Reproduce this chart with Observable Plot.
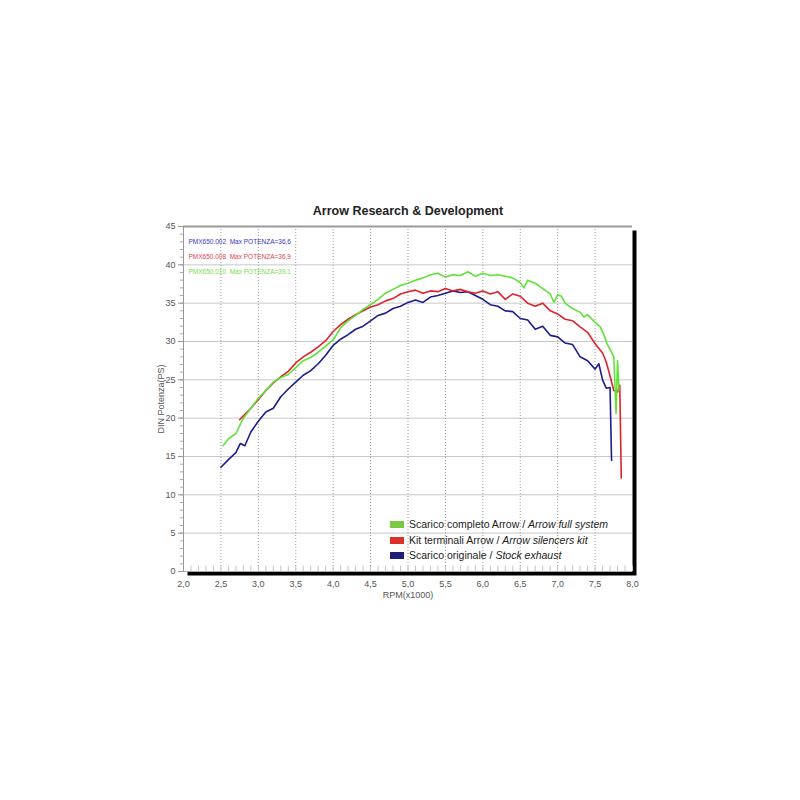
<!DOCTYPE html>
<html>
<head>
<meta charset="utf-8">
<script src="https://cdn.jsdelivr.net/npm/d3@7"></script>
<script src="https://cdn.jsdelivr.net/npm/@observablehq/plot@0.6"></script>
<style>
  body { margin: 0; background: #fff; font-family: "Liberation Sans", Arial, sans-serif; }
  #wrap { position: relative; width: 800px; height: 800px; }
  #legend { position: absolute; left: 390px; top: 517px; font-size: 10.5px; color: #222; line-height: 15.5px; }
  #legend .row { display: flex; align-items: center; white-space: nowrap; }
  #legend .sw { width: 14px; height: 7px; margin-right: 5px; display: inline-block; }
</style>
</head>
<body>
<div id="wrap"><div id="chart"></div><div id="legend"></div></div>
<script>
const title = "Arrow Research & Development";
const xLabel = "RPM(x1000)";
const yLabel = "DIN Potenza(PS)";
const xTicks = [2, 2.5, 3, 3.5, 4, 4.5, 5, 5.5, 6, 6.5, 7, 7.5, 8];
const yTicks = [0, 5, 10, 15, 20, 25, 30, 35, 40, 45];

const seriesNames = ["Stock", "Silencers", "Full"];
const seriesColors = ["#1c1c8c", "#e0222c", "#62e03a"];
const notes = ["PMX650.002  Max POTENZA=36,6", "PMX650.008  Max POTENZA=36,9", "PMX650.010  Max POTENZA=39,1"];
const noteColors = ["#3535c8", "#e0404e", "#74e04a"];
const legendLabels = [
  ["Scarico completo Arrow / ", "Arrow full system"],
  ["Kit terminali Arrow / ", "Arrow silencers kit"],
  ["Scarico originale / ", "Stock exhaust"]
];
const legendColors = ["#7ac943", "#d9302a", "#1f1f7a"];

// Stock exhaust (blue)
const stockRpm = [2.5,2.6,2.7,2.76,2.82,2.9,3.0,3.1,3.2,3.3,3.4,3.5,3.6,3.7,3.8,3.9,4.0,4.1,4.2,4.3,4.4,4.5,4.6,4.7,4.8,4.9,5.0,5.1,5.2,5.3,5.4,5.5,5.6,5.7,5.8,5.9,6.0,6.1,6.2,6.3,6.4,6.5,6.6,6.7,6.8,6.9,7.0,7.1,7.2,7.3,7.4,7.5,7.55,7.6,7.65,7.7,7.72];
const stockPs  = [13.6,14.6,15.5,16.7,16.4,18.2,19.6,20.8,21.3,22.8,23.8,24.7,25.6,26.2,27.1,28.2,29.5,30.3,30.9,31.6,32.0,32.7,33.4,33.7,34.3,34.6,35.1,35.4,35.1,35.8,36.0,36.3,36.6,36.4,36.5,36.0,35.5,34.8,34.6,34.0,33.9,33.0,32.8,31.6,32.0,30.8,30.6,29.8,29.6,28.0,27.5,26.4,27.1,25.0,23.9,24.0,14.5];

// Arrow silencers kit (red)
const silRpm = [2.75,2.8,2.9,3.0,3.1,3.2,3.3,3.4,3.5,3.6,3.7,3.8,3.9,4.0,4.1,4.2,4.3,4.4,4.5,4.6,4.7,4.8,4.9,5.0,5.1,5.2,5.3,5.4,5.5,5.6,5.7,5.8,5.9,6.0,6.1,6.2,6.3,6.4,6.5,6.6,6.7,6.8,6.9,7.0,7.1,7.2,7.3,7.4,7.5,7.6,7.65,7.7,7.75,7.8,7.83,7.85];
const silPs  = [19.8,20.3,21.3,22.4,23.6,24.6,25.4,26.1,27.2,28.0,28.6,29.3,30.1,31.3,32.2,32.9,33.5,34.0,34.5,34.8,35.3,35.6,36.2,36.5,36.7,36.3,36.6,36.5,36.9,36.6,36.8,36.5,36.3,36.6,36.2,36.5,35.5,36.2,35.9,35.0,34.6,35.0,34.0,33.6,32.9,32.7,31.9,31.2,29.7,28.5,27.3,25.5,23.6,23.4,24.3,12.2];

// Arrow full system (green)
const fullRpm = [2.53,2.6,2.7,2.8,2.9,3.0,3.1,3.2,3.3,3.4,3.5,3.6,3.7,3.8,3.9,4.0,4.1,4.2,4.3,4.4,4.5,4.6,4.7,4.8,4.9,5.0,5.1,5.2,5.3,5.4,5.5,5.6,5.7,5.8,5.9,6.0,6.1,6.2,6.3,6.4,6.5,6.55,6.6,6.7,6.8,6.9,6.95,7.0,7.05,7.1,7.2,7.3,7.35,7.4,7.5,7.57,7.62,7.66,7.7,7.75,7.78,7.8,7.82];
const fullPs  = [16.4,17.3,18.0,20.0,21.3,22.6,23.6,24.7,25.3,25.7,26.6,27.5,27.9,28.6,29.4,30.2,31.8,32.7,33.4,34.2,34.8,35.5,36.3,36.8,37.3,37.6,38.0,38.3,38.7,38.9,38.4,38.7,38.6,39.1,38.5,38.9,38.6,38.7,38.5,38.3,37.7,37.0,38.0,37.6,36.9,36.2,35.1,36.1,35.9,35.0,34.3,33.8,33.2,33.5,32.5,31.9,30.8,29.7,29.0,28.0,20.6,27.5,23.6];

const rows = [];
[[stockRpm, stockPs], [silRpm, silPs], [fullRpm, fullPs]].forEach(([xs, ys], i) => {
  xs.forEach((x, j) => rows.push({series: seriesNames[i], rpm: x, ps: ys[j]}));
});

const yMinor = d3.range(0, 46, 1);
const xMinor = d3.range(20, 81, 1).map(d => d / 10);
const fmt = d => d.toFixed(1).replace(".", ",");

const noteMarks = notes.map((n, i) =>
  Plot.text([n], {frameAnchor: "top-left", dx: 5, dy: 13 + i * 15, text: d => d,
    fill: noteColors[i], fontSize: 6.5}));

const plot = Plot.plot({
  width: 800,
  height: 800,
  marginLeft: 183,
  marginRight: 168,
  marginTop: 226,
  marginBottom: 229,
  style: {fontFamily: "Liberation Sans, Arial, sans-serif", background: "#fff"},
  x: {domain: [2, 8]},
  y: {domain: [0, 45]},
  color: {domain: seriesNames, range: seriesColors},
  marks: [
    Plot.frame({fill: "#000", dx: 4, dy: 4}),
    Plot.frame({fill: "#fff"}),
    Plot.gridY(yTicks.slice(1), {stroke: "#c8c8c8", strokeOpacity: 1, strokeWidth: 1}),
    Plot.gridX(xTicks.slice(1, -1), {stroke: "#9a9a9a", strokeOpacity: 1, strokeDasharray: "1,2"}),
    Plot.ruleX(xMinor, {y1: 0, y2: 0.7, stroke: "#c4c4c4"}),
    Plot.ruleY([45], {stroke: "#999", strokeWidth: 2}),
    Plot.ruleX([2], {stroke: "#999"}),
    Plot.ruleY([0], {stroke: "#aaa"}),
    Plot.axisY(yMinor, {tickSize: 3, text: null, label: null, stroke: "#aaa"}),
    Plot.axisY({ticks: yTicks, tickSize: 5, tickPadding: 3, fontSize: 9, fill: "#555", stroke: "#999",
      label: yLabel, labelAnchor: "center", labelArrow: "none", labelOffset: 26}),
    Plot.axisX({ticks: xTicks, tickSize: 0, tickPadding: 9, fontSize: 9, fill: "#555", tickFormat: fmt,
      label: xLabel, labelAnchor: "center", labelArrow: "none", labelOffset: 26}),
    Plot.line(rows, {x: "rpm", y: "ps", z: "series", stroke: "series", strokeWidth: 1.6, curve: "linear"}),
    ...noteMarks,
    Plot.text([title], {frameAnchor: "top", dy: -20, fontSize: 12.5, fontWeight: "bold", fill: "#222", text: d => d})
  ]
});
document.getElementById("chart").append(plot);

const legend = document.getElementById("legend");
legendLabels.forEach((lab, i) => {
  const row = document.createElement("div");
  row.className = "row";
  row.innerHTML = `<span class="sw" style="background:${legendColors[i]}"></span><span>${lab[0]}<i>${lab[1]}</i></span>`;
  legend.append(row);
});
</script>
</body>
</html>
